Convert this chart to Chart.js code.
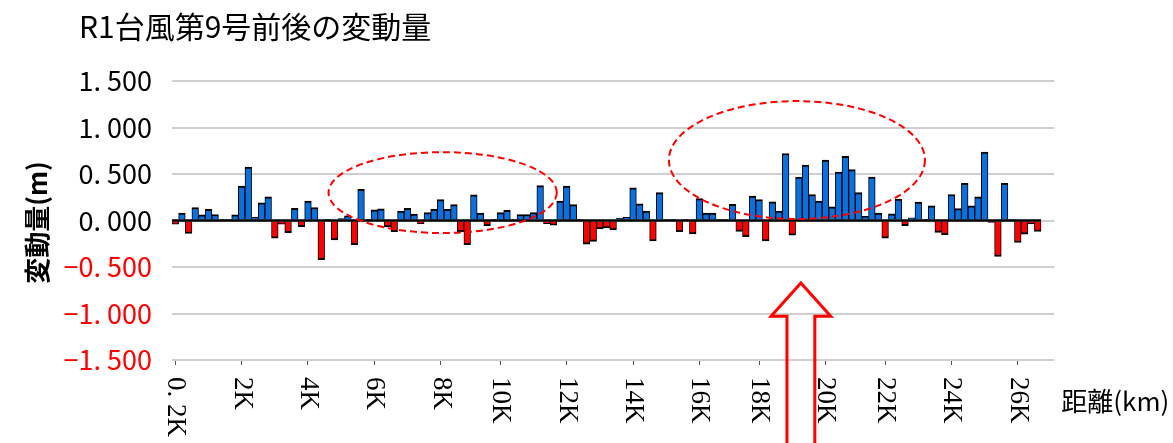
<!DOCTYPE html>
<html>
<head>
<meta charset="utf-8">
<script src="https://cdn.jsdelivr.net/npm/chart.js@4.4.0/dist/chart.umd.min.js"></script>
<style>
html,body{margin:0;padding:0;background:#fff;}
#wrap{width:1173px;height:443px;position:relative;}
</style>
</head>
<body>
<div id="wrap"><canvas id="c" width="1173" height="443"></canvas></div>
<script>
// ---- data ----
const titleText = "R1台風第9号前後の変動量";
const yTitle = "変動量(m)";
const xTitle = "距離(km)";

// measured change (m) per cross-section, in order along the river
const values = [
 -0.04, 0.08,-0.14, 0.14, 0.06, 0.12, 0.065,0.005,0.01, 0.06,
  0.37, 0.575,0.035,0.19, 0.255,-0.19,-0.04,-0.13, 0.13,-0.065,
  0.21, 0.14,-0.42, 0.005,-0.21, 0.02, 0.05,-0.26, 0.335,0.005,
  0.115,0.125,-0.07,-0.12, 0.10, 0.13, 0.07,-0.035,0.085,0.12,
  0.225,0.12, 0.17,-0.12,-0.26, 0.275,0.08,-0.055,0.005,0.085,
  0.11, 0.005,0.065,0.065,0.085,0.375,-0.035,-0.05,0.21, 0.37,
  0.17, 0.005,-0.255,-0.225,-0.09,-0.08,-0.10, 0.025,0.035,0.35,
  0.18, 0.10,-0.22, 0.30, 0.005,0.01,-0.12, 0.01,-0.145,0.235,
  0.08, 0.08, 0.005,0.01, 0.175,-0.117,-0.175,0.263,0.226,-0.22,
  0.20, 0.10, 0.72,-0.157,0.467,0.595,0.28, 0.21, 0.65, 0.146,
  0.52, 0.69, 0.547,0.30, 0.044,0.467,0.08,-0.19, 0.073,0.23,
 -0.055,0.03, 0.197,0.01, 0.157,-0.128,-0.153,0.28, 0.128,0.40,
  0.157,0.255,0.737,-0.02,-0.387,0.40, 0.005,-0.237,-0.146,-0.036,
 -0.117, null, null
];
const categories = values.map((_, i) => String(i));

// x tick labels and the category on which each one sits
const tickLabels = ["0. 2K","2K","4K","6K","8K","10K","12K","14K","16K","18K","20K","22K","24K","26K"];
const tickIndex  = [0,10,20,30,40,49,59,69,79,88,98,107,117,127];

const yTicks = [-1.5,-1.0,-0.5,0,0.5,1.0,1.5];

// annotation shapes in data units (category index, value)
const ellipses = [
  {cx: 40.3, cy: 0.30, rx: 17.2, ry: 0.435},
  {cx: 93.7, cy: 0.65, rx: 19.3, ry: 0.634}
];
const arrow = {x: 94.3, tip: -0.672, headBase: -1.03, headHalf: 4.5, shaftHalf: 2.1, bottom: -2.6};

const BLUE = '#0A70DE';
const RED  = '#FF0000';

function fmtY(v){
  const s = Math.abs(v).toFixed(3).replace('.', '. ');
  return (v < 0 ? '\u2212' : '') + s;
}

const decor = {
  id: 'decor',
  afterDatasetsDraw(chart){
    const c = chart.ctx;
    const ys = chart.scales.y;
    const meta = chart.getDatasetMeta(0);
    const pts = meta.data.filter((e, i) => values[i] !== null);
    if (!pts.length) return;
    const y0 = ys.getPixelForValue(0);
    c.save();
    c.strokeStyle = '#000';
    c.lineWidth = 2.5;
    c.beginPath();
    c.moveTo(pts[0].x - pts[0].width/2, y0);
    c.lineTo(pts[pts.length-1].x + pts[pts.length-1].width/2, y0);
    c.stroke();
    c.restore();
  },
  afterDraw(chart){
    const c = chart.ctx;
    const xs = chart.scales.x, ys = chart.scales.y;
    const area = chart.chartArea;
    c.save();
    // title
    c.fillStyle = '#000';
    c.font = "30px 'Noto Sans CJK JP'";
    c.textBaseline = 'middle';
    c.textAlign = 'left';
    c.fillText(titleText, 79, 27);
    // y title
    c.save();
    c.translate(37, (area.top + area.bottom)/2 + 2);
    c.rotate(-Math.PI/2);
    c.textAlign = 'center';
    c.textBaseline = 'middle';
    c.font = "bold 26px 'Noto Sans CJK JP'";
    c.fillText(yTitle, 0, 0);
    c.restore();
    // x tick labels (rotated clockwise)
    c.font = "27px 'Liberation Serif'";
    tickLabels.forEach((lab, k) => {
      const x = xs.getPixelForValue(tickIndex[k]);
      c.save();
      c.translate(x, area.bottom + 17);
      c.rotate(Math.PI/2);
      c.textAlign = 'left';
      c.textBaseline = 'middle';
      c.fillText(lab, 0, 0);
      c.restore();
    });
    // x title
    c.font = "26px 'Noto Sans CJK JP'";
    c.textAlign = 'left';
    c.textBaseline = 'middle';
    c.fillText(xTitle, area.right + 7, area.bottom + 41);
    // ellipses
    c.strokeStyle = RED;
    c.lineWidth = 2;
    c.setLineDash([7,4]);
    ellipses.forEach(e => {
      const cx = xs.getPixelForValue(e.cx);
      const rx = xs.getPixelForValue(e.cx + e.rx) - cx;
      const cy = ys.getPixelForValue(e.cy);
      const ry = cy - ys.getPixelForValue(e.cy + e.ry);
      c.beginPath();
      c.ellipse(cx, cy, rx, ry, 0, 0, Math.PI*2);
      c.stroke();
    });
    c.setLineDash([]);
    // arrow
    const ax = xs.getPixelForValue(arrow.x);
    const hh = xs.getPixelForValue(arrow.x + arrow.headHalf) - ax;
    const sh = xs.getPixelForValue(arrow.x + arrow.shaftHalf) - ax;
    const tipY = ys.getPixelForValue(arrow.tip);
    const baseY = ys.getPixelForValue(arrow.headBase);
    const botY = ys.getPixelForValue(arrow.bottom);
    c.lineWidth = 3;
    c.lineJoin = 'miter';
    c.beginPath();
    c.moveTo(ax - sh, botY);
    c.lineTo(ax - sh, baseY);
    c.lineTo(ax - hh, baseY);
    c.lineTo(ax, tipY);
    c.lineTo(ax + hh, baseY);
    c.lineTo(ax + sh, baseY);
    c.lineTo(ax + sh, botY);
    c.stroke();
    c.restore();
  }
};

Chart.defaults.font.family = "'Noto Sans CJK JP'";

new Chart(document.getElementById('c').getContext('2d'), {
  type: 'bar',
  data: {
    labels: categories,
    datasets: [{
      data: values,
      backgroundColor: ctx => (ctx.raw !== null && ctx.raw < 0) ? RED : BLUE,
      borderColor: '#000',
      borderWidth: {top: 2, bottom: 2, left: 1, right: 1},
      borderSkipped: 'start',
      barPercentage: 1,
      categoryPercentage: 1
    }]
  },
  options: {
    responsive: false,
    animation: false,
    devicePixelRatio: 1,
    layout: {padding: {left: 0, right: 118.7, top: 81, bottom: 0}},
    plugins: {legend: {display: false}, tooltip: {enabled: false}, title: {display: false}},
    scales: {
      x: {
        type: 'category',
        offset: true,
        border: {display: false},
        grid: {
          offset: false,
          drawOnChartArea: false,
          drawTicks: true,
          tickLength: 5,
          lineWidth: 1,
          color: ctx => tickIndex.includes(ctx.index) ? '#555' : 'rgba(0,0,0,0)',
          tickColor: ctx => tickIndex.includes(ctx.index) ? '#555' : 'rgba(0,0,0,0)'
        },
        ticks: {display: false, autoSkip: false},
        afterFit: s => { s.height = 83; }
      },
      y: {
        min: -1.5, max: 1.5,
        afterBuildTicks: s => { s.ticks = yTicks.map(v => ({value: v})); },
        border: {display: false},
        grid: {color: '#CFCFCF', lineWidth: 2, drawTicks: false},
        ticks: {
          padding: 20,
          font: {family: "'Noto Sans CJK JP'", size: 27},
          color: ctx => ctx.tick.value < 0 ? RED : '#000',
          callback: v => fmtY(v)
        },
        afterFit: s => { s.width = 172; }
      }
    }
  },
  plugins: [decor]
});
</script>
</body>
</html>
